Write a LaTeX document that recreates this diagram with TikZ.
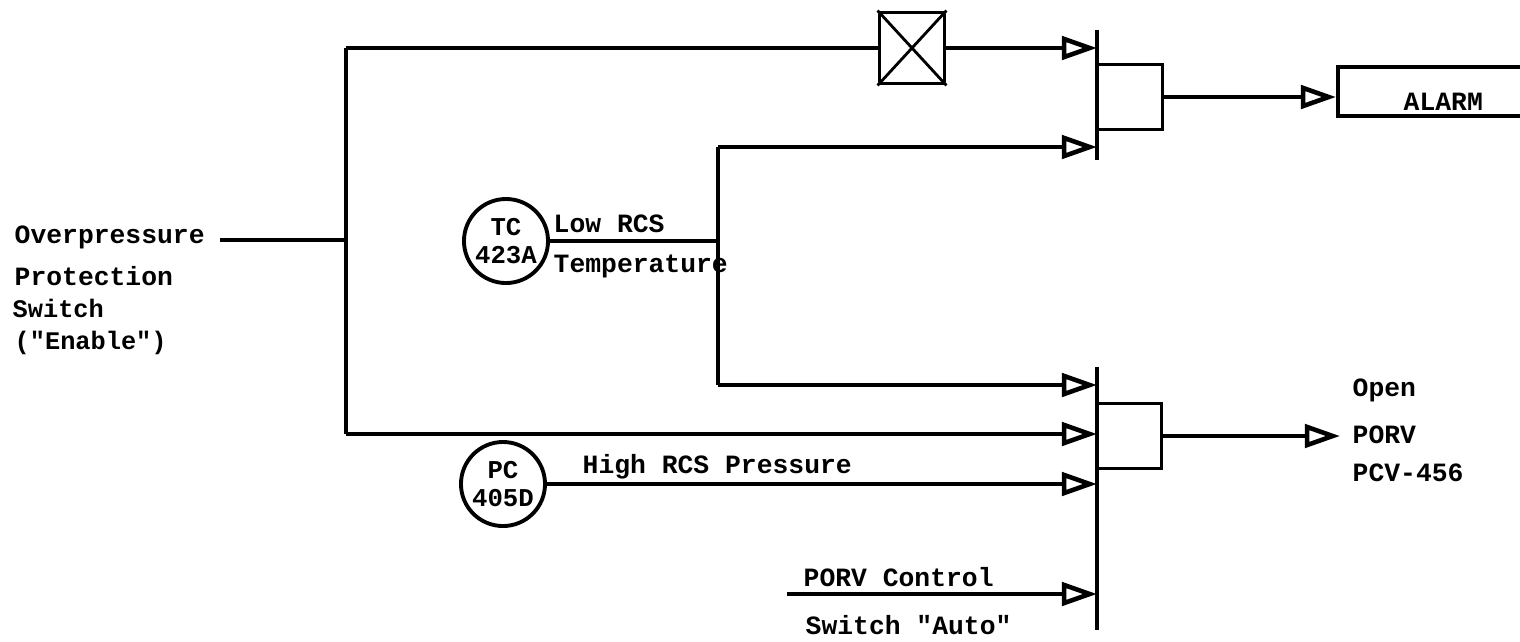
\documentclass[tikz,border=0pt]{standalone}
\usepackage{fontspec}
\setmainfont{Liberation Mono}[BoldFont=* Bold]
\usetikzlibrary{arrows.meta}
\tikzset{
    sigline/.style={line width=1.2pt},
    thinline/.style={line width=0.8pt},
    sigarrow/.style={sigline, -{Triangle[open, fill=white, length=10pt, width=6.6pt, line width=1.3pt]}},
    gatebox/.style={draw, line width=1.1pt, minimum width=0.65cm, minimum height=0.65cm, inner sep=0pt},
    instr/.style={draw, circle, line width=1.1pt, minimum size=0.84cm, inner sep=0pt, align=center, font=\fontsize{7.3}{8.2}\selectfont\bfseries},
    lbl/.style={inner sep=0pt, anchor=base west, font=\fontsize{7.5}{8}\selectfont\bfseries}
}
\begin{document}
\begin{tikzpicture}[x=0.01cm, y=-0.01cm]
    \useasboundingbox (0,0) rectangle (1520,641);
    \coordinate (upTop) at (1097,30);
    \coordinate (upBot) at (1097,160);
    \coordinate (lowTop) at (1097,367);
    \coordinate (lowBot) at (1097,630);
    \draw[sigline] (upTop) -- (upBot);
    \draw[sigline] (lowTop) -- (lowBot);
    % gates and blocks
    \node[gatebox] (gateUp) at (1130,97) {};
    \node[gatebox] (gateLow) at (1129,436) {};
    \node[gatebox, minimum height=0.71cm] (block) at (912,48) {};
    \draw[thinline] (block.north west) -- (block.south east);
    \draw[thinline] (block.north east) -- (block.south west);
    \node[draw, line width=1.1pt, minimum width=2cm, minimum height=0.49cm, inner sep=0pt] (alarm) at (1438,91.5) {};
    \node[lbl] (alarmText) at (1403,110) {ALARM};
    % instruments
    \node[instr] (tc) at (506,241) {TC\\423A};
    \node[instr] (pc) at (503,484) {PC\\405D};
    % junctions
    \coordinate (start) at (220,240);
    \coordinate (enJoin) at (346,240);
    \coordinate (enTop) at (346,48);
    \coordinate (enBot) at (346,434);
    \coordinate (lowJoin) at (718,241);
    \coordinate (lowUp) at (718,147);
    \coordinate (lowDown) at (718,385);
    \coordinate (autoIn) at (787,594);
    % connectors
    \draw[sigline] (start) -- (enJoin);
    \draw[sigline] (enTop) -- (enBot);
    \draw[sigline] (enTop) -- (block.west);
    \draw[sigarrow] (block.east) -- (upTop |- block.east);
    \draw[sigarrow] (lowUp) -- (upTop |- lowUp);
    \draw[line width=1pt] (tc.east) -- (lowJoin);
    \draw[sigline] (lowUp) -- (lowDown);
    \draw[sigarrow] (lowDown) -- (lowTop |- lowDown);
    \draw[sigarrow] (enBot) -- (lowTop |- enBot);
    \draw[sigarrow] (pc.east) -- (lowTop |- pc.east);
    \draw[sigarrow] (autoIn) -- (lowTop |- autoIn);
    \draw[sigarrow] (gateUp.east) -- (alarm.west |- gateUp.east);
    \coordinate (openOut) at (1340,436);
    \draw[sigarrow] (gateLow.east) -- (openOut);
    % labels
    \node[lbl] (over) at (14,243) {Overpressure};
    \node[lbl] (prot) at (14,285) {Protection};
    \node[lbl, font=\fontsize{7.2}{8}\selectfont\bfseries] (swit) at (12,317) {Switch};
    \node[lbl, font=\fontsize{7.2}{8}\selectfont\bfseries] (enab) at (14,349) {(\textquotedbl Enable\textquotedbl)};
    \node[lbl] (lowRcs) at (553,232) {Low RCS};
    \node[lbl] (temp) at (553,272) {Temperature};
    \node[lbl] (high) at (582,473) {High RCS Pressure};
    \node[lbl] (ctrl) at (803,586) {PORV Control};
    \node[lbl] (auto) at (805,634) {Switch \textquotedbl Auto\textquotedbl};
    \node[lbl] (open) at (1352,396) {Open};
    \node[lbl] (porv) at (1352,443) {PORV};
    \node[lbl] (pcv) at (1352,481) {PCV-456};
\end{tikzpicture}
\end{document}
